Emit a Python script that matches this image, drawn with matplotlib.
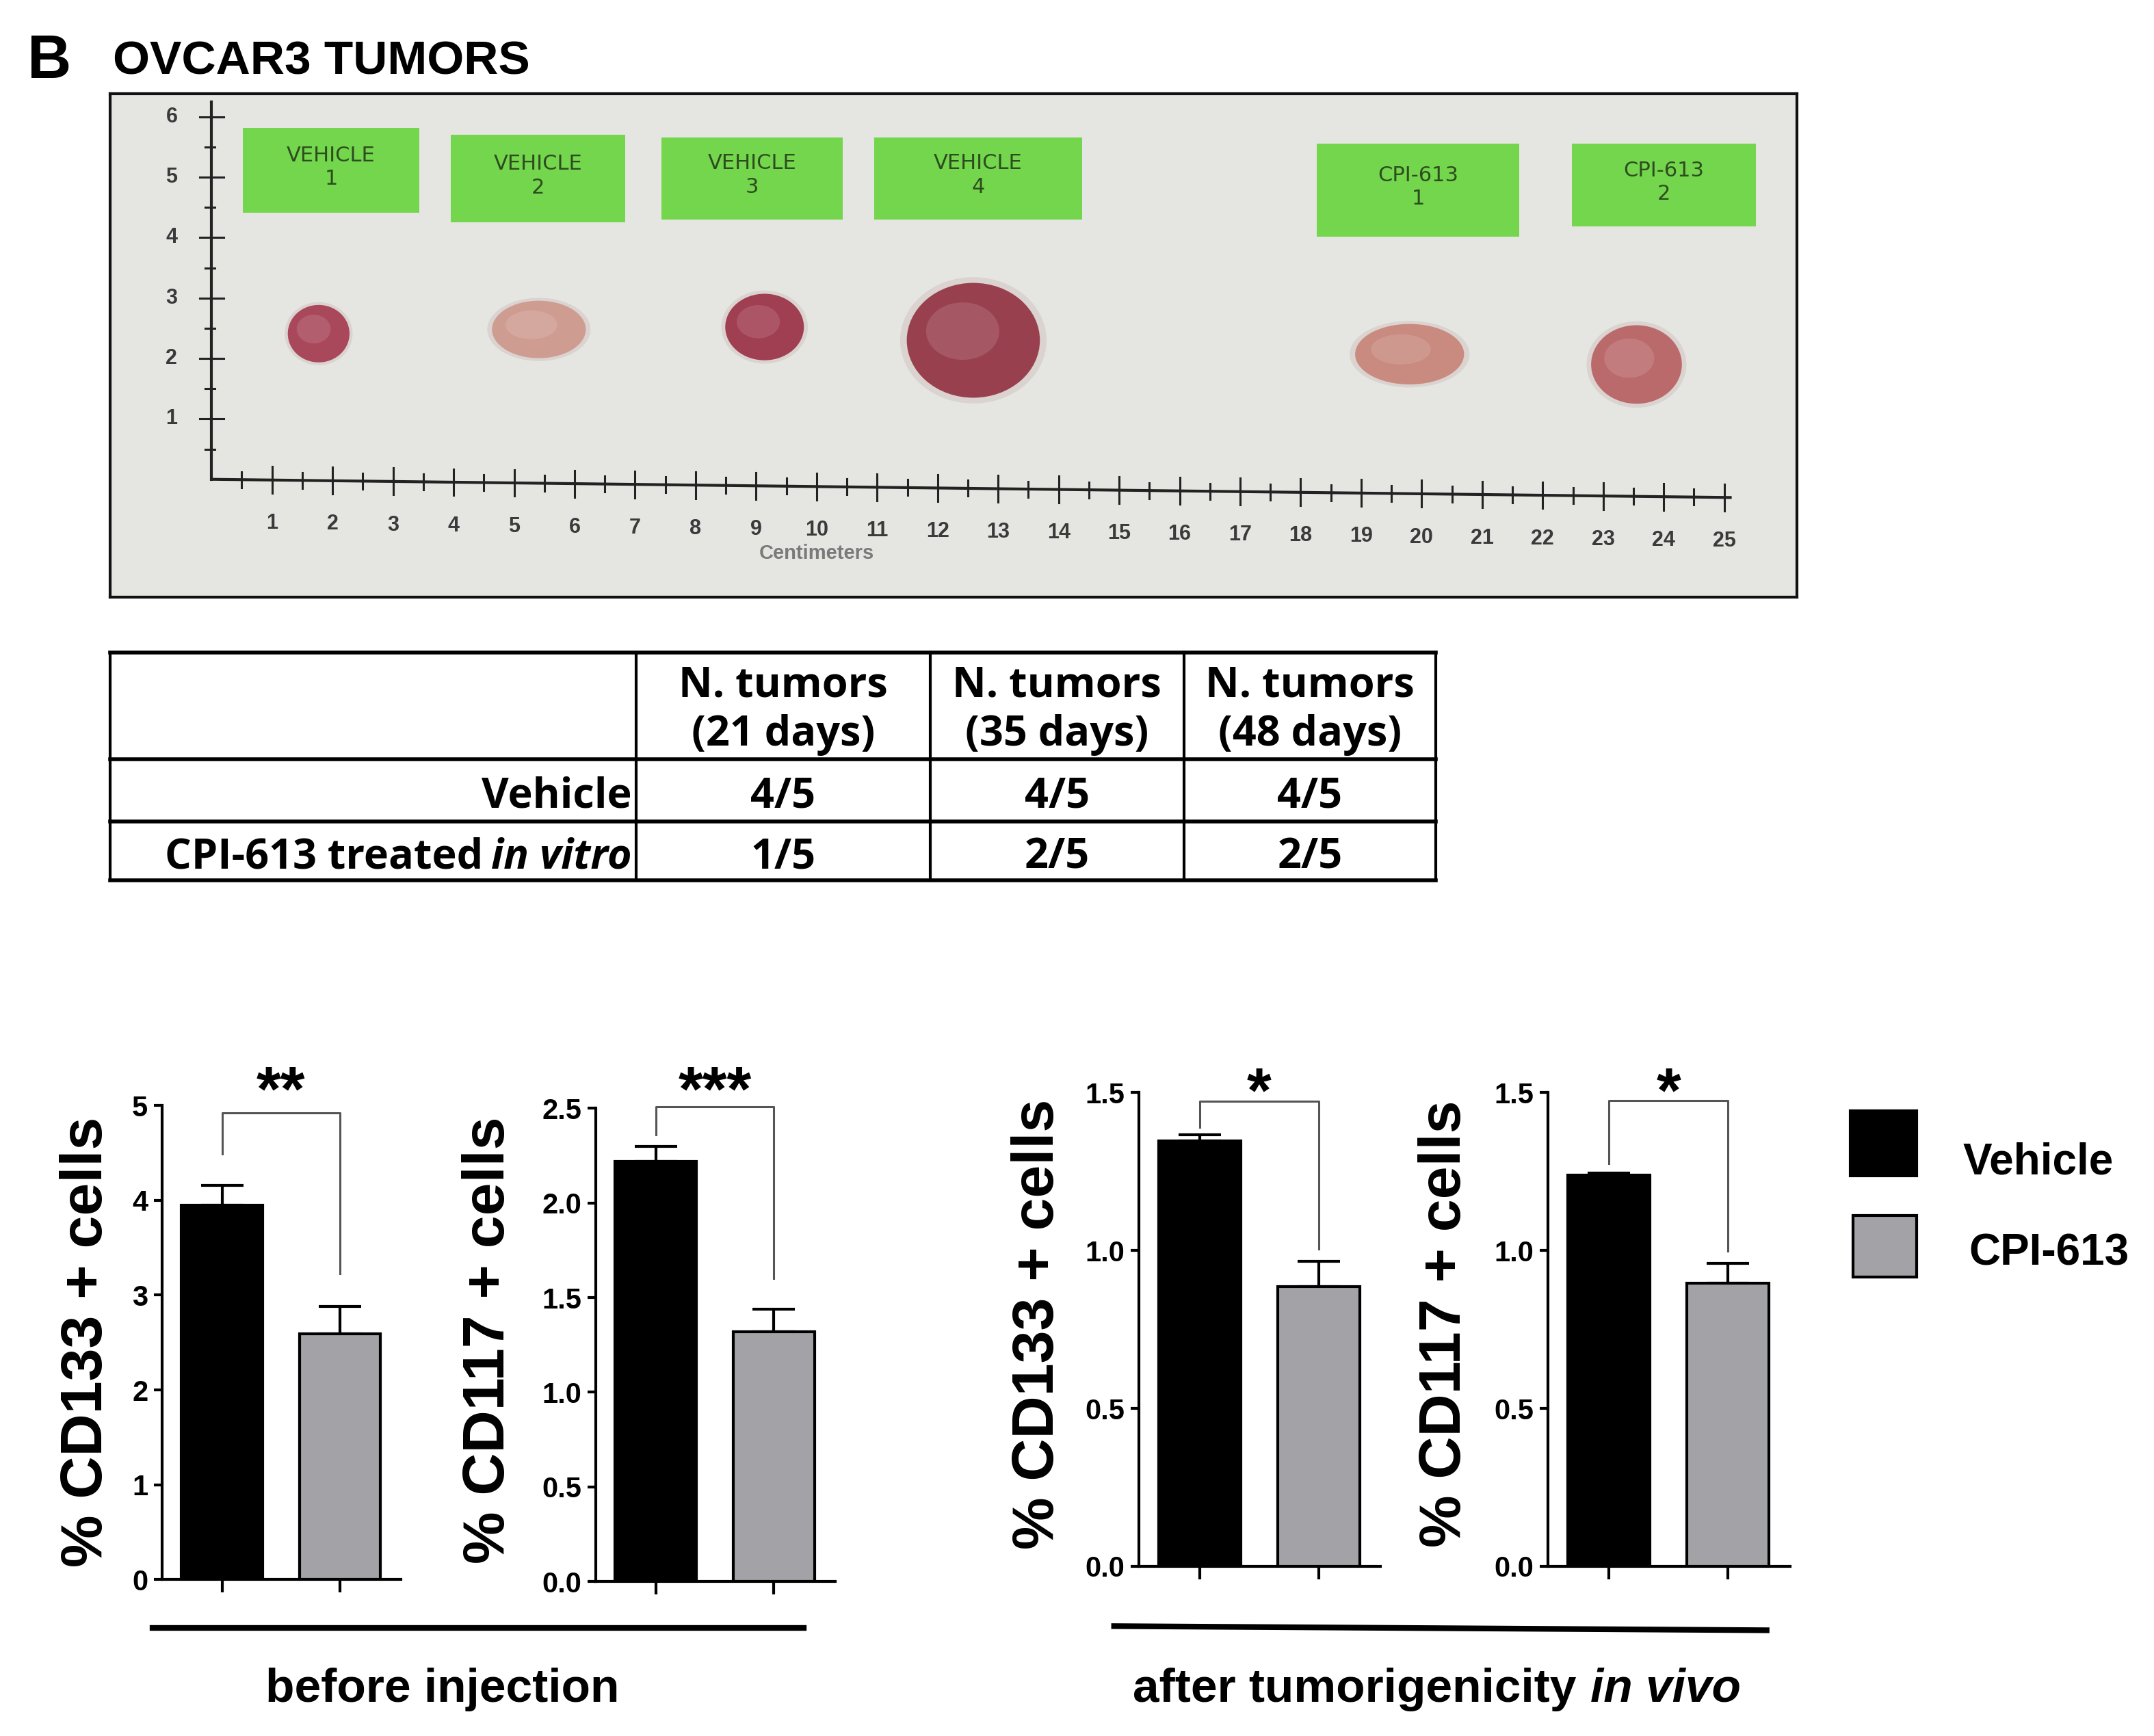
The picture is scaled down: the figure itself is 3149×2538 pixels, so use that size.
import matplotlib
matplotlib.use('Agg')
from matplotlib import pyplot as plt
from matplotlib.patches import Rectangle, Ellipse
import numpy as np

plt.rcParams['font.family'] = ['Liberation Sans', 'DejaVu Sans']
plt.rcParams['font.weight'] = 'bold'

# layout grid: reference picture at half size (1568 x 1264)
W, H = 1568, 1264

# ---------------- data ----------------
groups = ['Vehicle', 'CPI-613']
bar_colors = ['#000000', '#a3a3a7']

cd133_before = [3.95, 2.59]
cd133_before_err = [0.21, 0.29]
cd117_before = [2.22, 1.32]
cd117_before_err = [0.08, 0.12]
cd133_after = [1.347, 0.886]
cd133_after_err = [0.02, 0.08]
cd117_after = [1.238, 0.896]
cd117_after_err = [0.008, 0.063]

table_head1 = ['N. tumors', 'N. tumors', 'N. tumors']
table_head2 = ['(21 days)', '(35 days)', '(48 days)']
table_vehicle = ['4/5', '4/5', '4/5']
table_cpi = ['1/5', '2/5', '2/5']

# photo: labels and tumours, in ruler centimetres
photo_labels = ['VEHICLE\n1', 'VEHICLE\n2', 'VEHICLE\n3', 'VEHICLE\n4', 'CPI-613\n1', 'CPI-613\n2']
label_x0 = [0.52, 3.95, 7.43, 10.95, 18.27, 22.48]
label_x1 = [3.43, 6.84, 10.43, 14.39, 21.61, 25.52]
label_y0 = [4.41, 4.25, 4.30, 4.30, 4.02, 4.18]
label_y1 = [5.82, 5.70, 5.66, 5.66, 5.55, 5.55]
tumor_x = [1.77, 5.41, 9.14, 12.59, 19.8, 23.55]
tumor_y = [2.41, 2.48, 2.52, 2.30, 2.07, 1.90]
tumor_w = [1.02, 1.55, 1.30, 2.20, 1.80, 1.50]
tumor_h = [0.95, 0.95, 1.10, 1.90, 1.00, 1.30]
tumor_colors = ['#a9485a', '#cf9c92', '#a03e52', '#99404f', '#c98a80', '#bb6a6c']


def rect(l, t, r, b):
    return [l / W, 1 - b / H, (r - l) / W, (b - t) / H]


fig = plt.figure(figsize=(31.49, 25.38), dpi=100)
fig.patch.set_facecolor('white')

ax0 = fig.add_axes([0, 0, 1, 1])
ax0.set_xlim(0, W)
ax0.set_ylim(H, 0)
ax0.axis('off')

# title
ax0.text(20, 57, 'B', fontsize=64, fontweight='bold', va='baseline', ha='left')
ax0.text(82, 54, 'OVCAR3 TUMORS', fontsize=50, fontweight='bold', va='baseline', ha='left')

# ---------------- photo panel ----------------
axp = fig.add_axes(rect(80, 68, 1308, 435))
axp.set_xlim(-1.68, 26.2)
axp.set_ylim(-1.955, 6.386)
axp.set_facecolor('#e5e6e2')
axp.set_xticks([])
axp.set_yticks([])
for s in axp.spines.values():
    s.set_linewidth(3)
    s.set_color('#111111')

slope = -0.012
rc = '#222222'
axp.plot([0, 25.1], [0, 25.1 * slope], color=rc, lw=3)
axp.plot([0, 0], [0, 6.25], color=rc, lw=3)
for k in np.arange(0.5, 25.01, 0.5):
    half = 0.22 if k % 1 == 0 else 0.13
    axp.plot([k, k], [k * slope - half, k * slope + half], color=rc, lw=2.2)
for i in range(1, 26):
    axp.text(i, -0.72 + i * slope, str(i), ha='center', va='center',
             fontsize=22, color='#3a3a3a')
for k in np.arange(0.5, 6.01, 0.5):
    if k % 1 == 0:
        axp.plot([-0.2, 0.2], [k, k], color=rc, lw=2.2)
        axp.text(-0.66, k, str(int(k)), ha='center', va='center', fontsize=22, color='#3a3a3a')
    else:
        axp.plot([-0.1, 0.05], [k, k], color=rc, lw=2.2)
axp.text(10.0, -1.22, 'Centimeters', ha='center', va='center', fontsize=21, color='#7a7a7a')

for lab, x0, x1, y0, y1 in zip(photo_labels, label_x0, label_x1, label_y0, label_y1):
    axp.add_patch(Rectangle((x0, y0), x1 - x0, y1 - y0, facecolor='#74d64c', edgecolor='none'))
    axp.text((x0 + x1) / 2, (y0 + y1) / 2 + 0.05, lab, ha='center', va='center',
             fontsize=22, color='#2d4d1f', family='DejaVu Sans', fontweight='normal',
             linespacing=1.25)

for x, y, w, h, c in zip(tumor_x, tumor_y, tumor_w, tumor_h, tumor_colors):
    axp.add_patch(Ellipse((x, y), w * 1.1, h * 1.1, facecolor='#d6cbc8', edgecolor='none', alpha=0.7))
    axp.add_patch(Ellipse((x, y), w, h, facecolor=c, edgecolor='none'))
    axp.add_patch(Ellipse((x - w * 0.08, y + h * 0.08), w * 0.55, h * 0.5,
                          facecolor='white', edgecolor='none', alpha=0.12))

# ---------------- table ----------------
tf = ['Open Sans', 'DejaVu Sans']
tsize = 44
col_x = [80, 463, 677, 862, 1045]
row_y = [475, 553, 598, 641]
for y in row_y:
    ax0.plot([col_x[0], col_x[-1]], [y, y], color='black', lw=4, solid_capstyle='projecting')
for x in col_x:
    ax0.plot([x, x], [row_y[0], row_y[-1]], color='black', lw=3)
for j in range(3):
    cx = (col_x[j + 1] + col_x[j + 2]) / 2
    ax0.text(cx, 507, table_head1[j], ha='center', va='baseline', fontsize=tsize, family=tf)
    ax0.text(cx, 543, table_head2[j], ha='center', va='baseline', fontsize=tsize, family=tf)
    ax0.text(cx, 588, table_vehicle[j], ha='center', va='baseline', fontsize=tsize, family=tf)
    ax0.text(cx, 632, table_cpi[j], ha='center', va='baseline', fontsize=tsize, family=tf)
ax0.text(460, 588, groups[0], ha='right', va='baseline', fontsize=tsize, family=tf)

renderer = fig.canvas.get_renderer()


def text_width(t):
    bb = t.get_window_extent(renderer=renderer)
    return bb.width * W / fig.bbox.width


it = ax0.text(460, 632, 'in vitro', ha='right', va='baseline', fontsize=tsize, family=tf,
              style='italic')
ax0.text(460 - text_width(it) - 6, 632, 'CPI-613 treated', ha='right', va='baseline',
         fontsize=tsize, family=tf)


# ---------------- bar panels ----------------
def bar_panel(box, vals, errs, ymax, yticks, yfmt, bracket, stars, star_y, ylabel, lab_x, lab_y):
    ax = fig.add_axes(rect(*box))
    ax.bar([0, 1], vals, width=0.69, color=bar_colors, edgecolor='black', linewidth=3, zorder=3)
    ax.errorbar([0, 1], vals, yerr=[[0, 0], errs], fmt='none', ecolor='black',
                elinewidth=3, capsize=22, capthick=3, zorder=2)
    ax.set_xlim(-0.51, 1.52)
    ax.set_ylim(0, ymax)
    ax.set_yticks(yticks)
    ax.set_yticklabels([yfmt.format(v) for v in yticks])
    ax.set_xticks([0, 1])
    ax.set_xticklabels(['', ''])
    for s in ['top', 'right']:
        ax.spines[s].set_visible(False)
    for s in ['left', 'bottom']:
        ax.spines[s].set_linewidth(3)
    ax.tick_params(axis='y', length=9, width=3, pad=6, labelsize=30)
    ax.tick_params(axis='x', length=14, width=3)
    ax.patch.set_alpha(0)
    top, lft, rgt = bracket
    ax.plot([0, 0, 1, 1], [lft, top, top, rgt], color='#555555', lw=2.2, clip_on=False, zorder=4)
    ax.text(0.5, star_y, stars, ha='center', va='baseline', fontsize=66, clip_on=False)
    ax0.text(lab_x, lab_y, ylabel, rotation=90, rotation_mode='anchor', ha='center',
             va='baseline', fontsize=62, fontweight='bold')
    return ax


bar_panel((118, 805, 292, 1150), cd133_before, cd133_before_err, 5, [0, 1, 2, 3, 4, 5], '{:.0f}',
          (4.92, 4.49, 3.23), '**', 4.95, '% CD133 + cells', 74, 977)
bar_panel((433.6, 807, 608, 1151.5), cd117_before, cd117_before_err, 2.5,
          [0, 0.5, 1.0, 1.5, 2.0, 2.5], '{:.1f}',
          (2.51, 2.36, 1.60), '***', 2.49, '% CD117 + cells', 367, 976)
bar_panel((829, 795.6, 1005, 1140.4), cd133_after, cd133_after_err, 1.5, [0, 0.5, 1.0, 1.5], '{:.1f}',
          (1.472, 1.39, 1.004), '*', 1.44, '% CD133 + cells', 767, 964)
bar_panel((1127, 795.6, 1303, 1140.4), cd117_after, cd117_after_err, 1.5, [0, 0.5, 1.0, 1.5], '{:.1f}',
          (1.476, 1.276, 0.998), '*', 1.44, '% CD117 + cells', 1063, 964)

# legend
ax0.add_patch(Rectangle((1347, 809), 48, 47, facecolor=bar_colors[0], edgecolor='black', lw=3))
ax0.add_patch(Rectangle((1349, 885), 46, 45, facecolor=bar_colors[1], edgecolor='black', lw=3))
ax0.text(1429, 855, groups[0], ha='left', va='baseline', fontsize=46)
ax0.text(1433, 921, groups[1], ha='left', va='baseline', fontsize=46)

# group underlines and captions
ax0.plot([111, 585], [1185.5, 1185.5], color='black', lw=6)
ax0.plot([811, 1286], [1184, 1187], color='black', lw=6)
ax0.text(322, 1239, 'before injection', ha='center', va='baseline', fontsize=50)

p1 = ax0.text(0, 1239, 'after tumorigenicity', ha='left', va='baseline', fontsize=50)
p2 = ax0.text(0, 1239, 'in vivo', ha='left', va='baseline', fontsize=50, style='italic')
w1, w2 = text_width(p1), text_width(p2)
gap = 10
start = 1046 - (w1 + gap + w2) / 2
p1.set_x(start)
p2.set_x(start + w1 + gap)

fig.savefig('out.png', dpi=100, facecolor='white')
